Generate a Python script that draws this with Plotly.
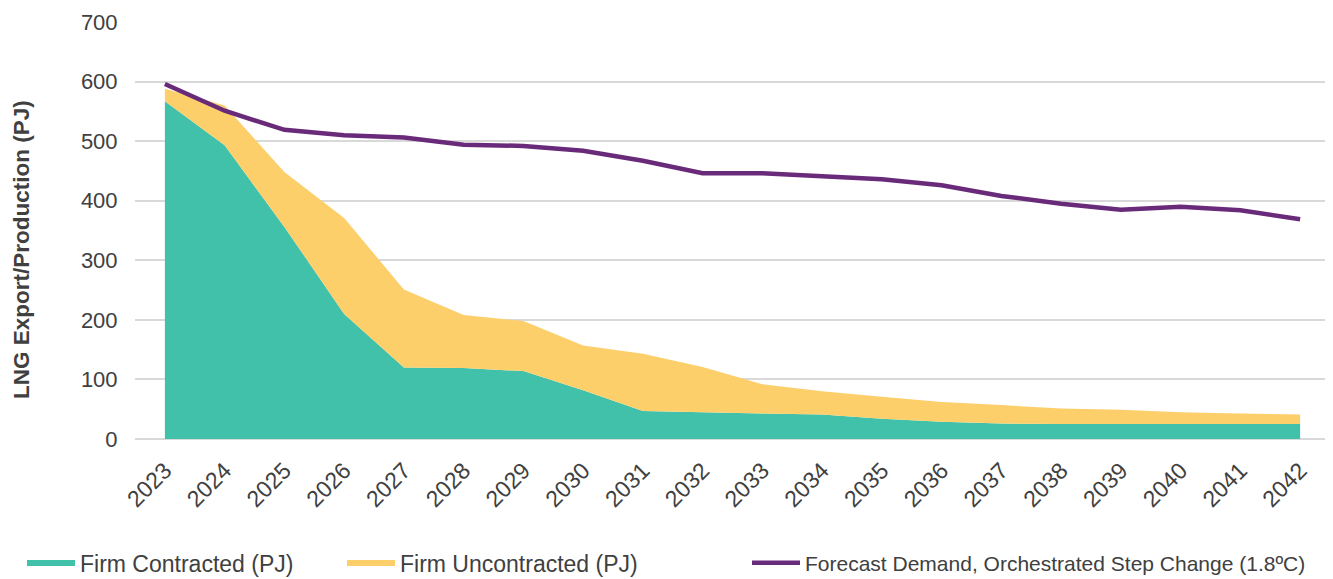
import plotly.graph_objects as go

years = [str(y) for y in range(2023, 2043)]
firm_contracted = [567, 493, 356, 210, 120, 119, 114, 82, 47, 45, 43, 41, 34, 29, 26, 25, 25, 25, 25, 25]
firm_total = [588, 560, 448, 371, 251, 208, 198, 157, 143, 121, 92, 80, 71, 62, 57, 51, 49, 45, 43, 41]
firm_uncontracted = [t - c for t, c in zip(firm_total, firm_contracted)]
forecast_demand = [596, 551, 519, 510, 506, 494, 492, 484, 467, 446, 446, 441, 436, 426, 408, 395, 385, 390, 384, 369]

green = "#41C0AA"
yellow = "#FCCF6B"
purple = "#6A2A7A"
font_family = "Liberation Sans, Arial, sans-serif"
text_color = "#404040"

# page body has an 8px default margin, so figure coords = window coords - 8
W, H = 1333, 579
ML, MR, MT, MB = 127, 11, 14, 148
plot_w = W - ML - MR
plot_h = H - MT - MB

def px_to_paper_x(px):
    return (px - ML) / plot_w

def px_to_paper_y(py):
    return (H - MB - py) / plot_h

fig = go.Figure()
fig.add_trace(go.Scatter(
    x=years, y=firm_contracted, name="Firm Contracted (PJ)",
    mode="none", stackgroup="one", fillcolor=green, legend="legend",
))
fig.add_trace(go.Scatter(
    x=years, y=firm_uncontracted, name="Firm Uncontracted (PJ)",
    mode="none", stackgroup="one", fillcolor=yellow, legend="legend2",
))
fig.add_trace(go.Scatter(
    x=years, y=forecast_demand, name="Forecast Demand, Orchestrated Step Change (1.8ºC)",
    mode="lines", line=dict(color=purple, width=4.5), legend="legend3",
))

def leg(x_px, size):
    return dict(
        orientation="h", xanchor="left", x=px_to_paper_x(x_px),
        y=px_to_paper_y(555), yanchor="middle",
        font=dict(size=size, color=text_color, family=font_family), itemwidth=48,
        bgcolor="rgba(0,0,0,0)",
    )

fig.update_layout(
    width=W, height=H,
    margin=dict(l=ML, r=MR, t=MT, b=MB, autoexpand=False),
    paper_bgcolor="white", plot_bgcolor="white",
    font=dict(family=font_family, size=18, color=text_color),
    showlegend=True,
    legend=leg(14, 23),
    legend2=leg(334, 23),
    legend3=leg(739, 21),
    xaxis=dict(
        type="category", range=[-0.5, 19.5], tickangle=-45,
        showgrid=False, showline=False,
        ticks="outside", ticklen=8, tickcolor="rgba(0,0,0,0)", automargin=False,
        tickfont=dict(size=23, color=text_color),
    ),
    yaxis=dict(
        range=[0, 700], dtick=100, showgrid=True, gridcolor="#D9D9D9", gridwidth=1.5,
        zeroline=True, zerolinecolor="#D9D9D9", zerolinewidth=1.5,
        ticks="outside", ticklen=12, tickcolor="rgba(0,0,0,0)", automargin=False,
        tickfont=dict(size=22, color=text_color),
    ),
    annotations=[dict(
        text="<b>LNG Export/Production (PJ)</b>", textangle=-90,
        xref="paper", yref="paper", x=px_to_paper_x(14), y=px_to_paper_y(242),
        xanchor="center", yanchor="middle", showarrow=False,
        font=dict(size=22.5, color=text_color, family=font_family),
    )],
)

fig.write_html("out.html")
